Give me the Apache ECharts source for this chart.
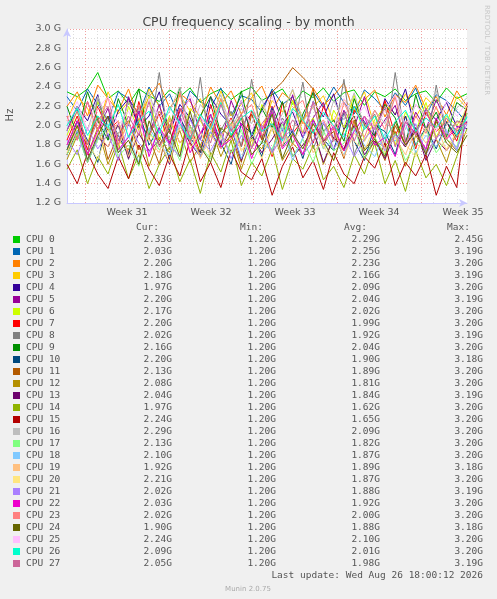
<!DOCTYPE html>
<html><head><meta charset="utf-8">
<script src="https://cdn.jsdelivr.net/npm/echarts@6/dist/echarts.min.js"></script>
<style>html,body{margin:0;padding:0;background:#F0F0F0}#c{width:497px;height:599px}</style>
</head><body><div id="c"></div>
<script>
const names = Array.from({length:28},(_,i)=>'CPU '+i);
const colors = ['#00CC00','#0066B3','#FF8000','#FFCC00','#330099','#990099','#CCFF00','#FF0000','#808080','#008F00','#00487D','#B35A00','#B38F00','#6B006B','#8FB300','#B30000','#BEBEBE','#80FF80','#80C9FF','#FFC080','#FFE680','#AA80FF','#EE00CC','#FF8080','#666600','#FFBFFF','#00FFCC','#CC6699'];
const weekLabels = ['Week 31','Week 32','Week 33','Week 34','Week 35'];
const yTicks = [1.2,1.4,1.6,1.8,2.0,2.2,2.4,2.6,2.8,3.0];
const curVals = [2.33,2.03,2.20,2.18,1.97,2.20,2.17,2.20,2.02,2.16,2.20,2.13,2.08,2.04,1.97,2.24,2.29,2.13,2.10,1.92,2.21,2.02,2.03,2.02,1.90,2.24,2.09,2.05];
const minVals = Array(28).fill(1.20);
const avgVals = [2.29,2.25,2.23,2.16,2.09,2.04,2.02,1.99,1.92,2.04,1.90,1.89,1.81,1.84,1.62,1.65,2.09,1.82,1.87,1.89,1.87,1.88,1.92,2.00,1.88,2.10,2.01,1.98];
const maxVals = [2.45,3.19,3.20,3.19,3.20,3.19,3.20,3.20,3.19,3.20,3.18,3.20,3.20,3.19,3.20,3.20,3.20,3.20,3.20,3.18,3.20,3.19,3.20,3.20,3.18,3.20,3.20,3.19];
const c0=[2.35,2.30,2.38,2.55,2.28,2.36,2.22,2.38,2.31,2.25,2.37,2.30,2.39,2.24,2.33,2.38,2.27,2.35,2.40,2.26,2.32,2.38,2.22,2.36,2.29,2.39,2.25,2.34,2.37,2.21,2.35,2.30,2.38,2.26,2.33,2.36,2.24,2.39,2.28,2.33];
const c1=[2.30,2.15,2.38,2.22,2.05,2.35,2.28,2.12,2.40,2.20,2.33,2.08,2.36,2.25,2.18,2.39,2.10,2.31,2.27,2.14,2.38,2.22,2.30,2.06,2.35,2.19,2.40,2.24,2.12,2.37,2.28,2.16,2.34,2.21,2.39,2.10,2.32,2.26,2.15,2.03];
const c2=[2.20,2.35,2.10,2.42,2.28,2.15,2.38,2.05,2.30,2.44,2.18,2.33,2.25,2.08,2.40,2.22,2.36,2.12,2.29,2.41,2.16,2.34,2.26,2.02,2.39,2.21,2.31,2.44,2.14,2.27,2.37,2.09,2.32,2.24,2.42,2.17,2.30,2.11,2.36,2.20];
const c3=[2.05,2.30,2.18,1.95,2.35,2.12,2.25,2.02,2.38,2.20,1.98,2.32,2.15,2.28,2.00,2.36,2.10,2.22,2.34,1.96,2.26,2.14,2.37,2.06,2.19,2.31,2.04,2.27,2.16,2.35,1.99,2.23,2.12,2.33,2.08,2.29,2.18,2.02,2.30,2.18];
const c4=[1.95,2.20,2.05,2.32,1.88,2.15,2.28,1.98,2.10,2.35,1.92,2.22,2.08,1.85,2.30,2.12,2.00,2.26,1.90,2.18,2.36,2.02,2.14,1.87,2.25,2.09,2.33,1.96,2.20,2.04,1.89,2.28,2.11,2.38,1.94,2.17,2.06,2.24,1.99,1.97];
const c5=[2.10,1.85,2.25,1.95,2.18,1.78,2.30,2.02,1.90,2.22,1.82,2.15,2.28,1.92,2.05,1.80,2.26,2.00,2.12,1.86,2.20,1.94,2.32,1.88,2.08,2.24,1.84,2.16,1.98,2.30,1.90,2.06,2.21,1.83,2.14,1.96,2.27,2.03,1.89,2.20];
const c6=[1.90,2.15,1.80,2.25,2.00,1.75,2.20,1.95,2.30,1.85,2.10,1.72,2.18,2.05,1.88,2.28,1.96,2.12,1.78,2.22,2.02,1.86,2.26,1.92,2.08,1.76,2.16,1.98,2.32,1.84,2.06,2.20,1.80,2.14,1.94,2.24,1.88,2.10,2.00,2.17];
const c7=[1.85,2.10,1.75,2.20,1.95,2.05,1.70,2.25,1.90,2.12,1.80,2.18,2.00,1.72,2.22,1.88,2.08,1.78,2.15,1.98,1.68,2.24,1.92,2.06,1.82,2.20,1.96,1.74,2.16,2.02,1.86,2.26,1.90,2.10,1.76,2.14,1.94,2.04,1.84,2.20];
const c8=[1.80,2.05,1.70,2.30,1.85,2.00,1.65,2.20,1.90,2.55,1.75,2.10,1.82,2.50,1.68,1.95,2.15,1.78,2.48,1.88,1.72,2.08,1.92,2.45,1.76,2.02,1.86,2.48,1.70,1.98,2.12,1.80,2.55,1.84,1.96,1.74,2.42,1.90,2.05,2.02];
const c9=[2.20,1.90,2.35,2.05,1.85,2.28,2.00,2.38,1.88,2.15,1.95,2.40,1.82,2.10,2.30,1.92,2.02,2.36,1.86,2.18,1.98,2.25,1.80,2.12,2.34,1.94,2.06,1.84,2.28,2.00,1.90,2.22,2.08,1.78,2.32,1.96,2.14,1.88,2.24,2.16];
const c10=[1.75,2.05,1.85,1.62,2.10,1.90,1.70,2.15,1.80,1.98,1.65,2.08,1.88,1.72,2.12,1.82,1.60,2.02,1.92,1.68,2.18,1.78,1.95,1.66,2.06,1.86,1.74,2.14,1.84,1.64,2.00,1.94,1.70,2.10,1.80,1.98,1.76,2.04,1.88,2.20];
const c11=[1.70,2.00,1.80,2.10,1.65,1.92,2.05,1.75,1.88,1.60,2.08,1.82,1.95,1.68,2.02,1.78,1.90,1.62,2.12,1.85,2.35,2.45,2.60,2.50,2.38,1.84,1.94,1.66,2.06,1.76,1.88,1.64,2.00,1.80,1.96,1.70,2.04,1.86,1.74,2.13];
const c12=[1.65,1.90,1.70,1.98,1.60,1.85,1.75,2.02,1.58,1.88,1.72,1.95,1.62,1.80,2.00,1.68,1.92,1.55,1.86,1.76,1.98,1.64,1.82,1.70,1.96,1.60,1.88,1.74,2.04,1.66,1.84,1.78,1.94,1.58,1.90,1.72,1.86,1.62,1.96,2.08];
const c13=[1.70,1.95,1.62,1.88,1.78,2.02,1.66,1.92,1.74,1.85,1.60,2.00,1.82,1.68,1.94,1.76,1.98,1.64,1.90,1.72,1.86,2.04,1.68,1.80,1.96,1.62,1.88,1.76,2.00,1.70,1.84,1.66,1.92,1.78,1.98,1.64,1.86,1.74,1.90,2.04];
const c14=[1.55,1.75,1.40,1.68,1.50,1.82,1.45,1.70,1.35,1.60,1.78,1.42,1.65,1.30,1.72,1.52,1.85,1.38,1.62,1.48,1.76,1.34,1.66,1.55,1.80,1.44,1.58,1.36,1.70,1.50,1.82,1.40,1.64,1.32,1.74,1.46,1.60,1.38,1.68,1.97];
const c15=[1.60,1.40,1.72,1.50,1.35,1.68,1.45,1.80,1.55,1.38,1.70,1.48,1.85,1.42,1.62,1.36,1.75,1.52,1.44,1.66,1.28,1.58,1.78,1.46,1.64,1.34,1.72,1.50,1.40,1.68,1.56,1.82,1.38,1.62,1.48,1.70,1.28,1.58,1.36,2.24];
const c16=[2.00,2.20,1.95,2.30,2.05,1.90,2.25,2.10,2.35,1.98,2.15,2.40,1.92,2.22,2.08,2.32,1.96,2.18,2.02,2.28,1.94,2.12,2.38,2.04,2.20,1.90,2.26,2.06,2.34,1.98,2.16,2.02,2.30,1.96,2.22,2.10,2.36,2.00,2.18,2.29];
const c17=[1.70,1.92,1.62,1.85,1.98,1.68,1.80,1.58,1.95,1.75,1.88,1.64,2.00,1.78,1.66,1.90,1.72,1.96,1.60,1.84,1.76,2.02,1.68,1.86,1.62,1.94,1.74,1.82,1.98,1.66,1.88,1.70,1.92,1.64,1.80,1.96,1.72,1.86,1.78,2.13];
const c18=[1.75,1.95,1.65,1.88,2.02,1.72,1.90,1.62,1.98,1.80,1.70,2.05,1.85,1.68,1.94,1.78,2.00,1.66,1.92,1.82,1.74,1.98,1.64,1.88,2.04,1.76,1.86,1.70,1.96,1.80,1.68,1.92,1.84,2.02,1.72,1.90,1.78,1.96,1.74,2.10];
const c19=[1.80,2.00,1.70,1.92,1.78,2.05,1.68,1.95,1.85,1.72,2.08,1.82,1.96,1.66,1.90,1.76,2.02,1.74,1.88,1.98,1.70,1.94,1.80,2.06,1.72,1.86,1.98,1.68,1.92,1.84,2.04,1.76,1.88,1.70,1.96,1.82,2.00,1.74,1.90,1.92];
const c20=[1.72,1.98,1.82,1.65,1.95,1.78,2.04,1.70,1.90,1.84,1.62,2.00,1.76,1.94,1.68,1.88,2.06,1.74,1.86,1.66,1.98,1.80,1.92,1.70,2.02,1.78,1.64,1.96,1.84,1.74,2.00,1.72,1.90,1.80,1.68,1.98,1.86,1.76,1.94,2.21];
const c21=[1.85,1.70,1.98,1.76,1.92,1.64,2.02,1.82,1.72,1.96,1.80,1.68,2.06,1.86,1.74,1.94,1.66,1.90,1.78,2.00,1.72,1.88,1.96,1.70,1.84,2.04,1.76,1.92,1.68,1.86,1.98,1.74,1.90,1.80,2.02,1.70,1.88,1.94,1.76,2.02];
const c22=[1.80,2.05,1.70,1.95,2.10,1.75,1.88,2.15,1.68,1.98,1.82,2.08,1.72,1.92,2.12,1.78,1.86,2.02,1.66,1.96,2.14,1.76,1.90,1.70,2.06,1.84,2.00,1.74,1.94,2.10,1.80,1.88,1.68,2.04,1.92,1.76,2.08,1.86,1.98,2.03];
const c23=[2.10,1.85,2.25,1.95,2.30,1.80,2.05,2.20,1.88,2.15,1.92,2.35,1.82,2.08,1.98,2.28,1.86,2.12,2.22,1.90,2.02,1.78,2.18,2.26,1.94,2.06,1.84,2.24,2.00,1.88,2.16,1.96,2.30,1.80,2.10,1.92,2.20,1.86,2.04,2.02];
const c24=[1.75,2.00,1.65,1.90,2.10,1.72,1.85,1.60,2.05,1.80,1.95,1.68,2.15,1.78,1.62,1.98,1.88,2.08,1.70,1.82,2.12,1.66,1.92,1.76,2.02,1.84,1.64,1.96,2.10,1.74,1.86,1.68,2.04,1.80,1.94,1.70,2.06,1.82,1.72,1.90];
const c25=[2.05,2.25,1.95,2.18,2.30,2.00,2.15,1.92,2.28,2.08,2.20,1.98,2.32,2.10,1.94,2.22,2.04,2.26,1.96,2.14,2.30,2.02,2.18,1.90,2.24,2.12,1.98,2.28,2.06,2.20,1.96,2.16,2.32,2.00,2.22,2.08,1.94,2.26,2.10,2.24];
const c26=[2.00,2.18,1.90,2.10,1.98,2.22,1.88,2.05,2.15,1.92,2.20,2.02,1.86,2.12,1.96,2.24,1.90,2.08,2.16,1.94,2.02,1.84,2.18,2.06,1.92,2.14,2.00,1.88,2.20,1.96,2.10,1.86,2.04,2.16,1.94,2.08,1.98,2.12,1.90,2.09];
const c27=[1.95,2.15,1.80,2.05,2.20,1.85,2.10,1.90,2.25,1.78,2.00,2.18,1.88,2.08,1.82,2.22,1.94,2.12,1.76,2.02,2.16,1.86,2.06,1.92,2.24,1.80,1.98,2.14,1.84,2.10,1.96,2.20,1.78,2.04,1.90,2.18,1.86,2.08,1.94,2.05];
const allSeries=[c0,c1,c2,c3,c4,c5,c6,c7,c8,c9,c10,c11,c12,c13,c14,c15,c16,c17,c18,c19,c20,c21,c22,c23,c24,c25,c26,c27];

const X0=-5, X1=28.33;
const series = allSeries.map((arr,k)=>({
  type:'line', name:names[k], showSymbol:false, animation:false, z:3,
  lineStyle:{width:1,color:colors[k]}, itemStyle:{color:colors[k]},
  data: arr.map((v,i)=>[X0+i*(X1-X0)/(arr.length-1), v])
}));
const minorX=[], majorX=[];
for(let d=-4.5; d<X1; d+=1){ (Math.abs(((d+3.5)%7+7)%7)<1e-6 ? majorX : minorX).push(d); }
series.unshift({type:'line',data:[[X0,0]],silent:true,z:1,showSymbol:false,lineStyle:{opacity:0},
  markLine:{symbol:'none',silent:true,label:{show:false},animation:false,z:1,
    data:[...minorX.map(x=>({xAxis:x,lineStyle:{color:'#DDDDDD',type:[1,2],width:1}})),
          ...majorX.map(x=>({xAxis:x,lineStyle:{color:'#F0A0A0',type:[1,2],width:1}}))]}});

const graphic=[];
const mono='"DejaVu Sans Mono", monospace';
const hdrY=228;
[['Cur:',159],['Min:',263],['Avg:',367],['Max:',470]].forEach(([t,x])=>graphic.push({type:'text',x:x,y:hdrY,style:{text:t,fill:'#555',font:'9.5px '+mono,textAlign:'right',textVerticalAlign:'middle'}}));
const fmt=v=>v.toFixed(2)+'G';
names.forEach((n,i)=>{
  const y=239.5+i*12.0;
  graphic.push({type:'rect',shape:{x:13,y:y-3.5,width:7,height:7},style:{fill:colors[i]}});
  graphic.push({type:'text',x:26,y:y,style:{text:n,fill:'#555',font:'9.5px '+mono,textVerticalAlign:'middle'}});
  [[curVals,172],[minVals,276],[avgVals,380],[maxVals,483]].forEach(([a,x])=>graphic.push({type:'text',x:x,y:y,style:{text:fmt(a[i]),fill:'#555',font:'9.5px '+mono,textAlign:'right',textVerticalAlign:'middle'}}));
});
graphic.push({type:'text',x:483,y:576,style:{text:'Last update: Wed Aug 26 18:00:12 2026',fill:'#555',font:'9.5px '+mono,textAlign:'right',textVerticalAlign:'middle'}});
graphic.push({type:'text',x:248,y:589,style:{text:'Munin 2.0.75',fill:'#AAAAAA',font:'7px "DejaVu Sans"',textAlign:'center',textVerticalAlign:'middle'}});
graphic.push({type:'text',x:487,y:5,rotation:-Math.PI/2,style:{text:'RRDTOOL / TOBI OETIKER',fill:'#C8C8C8',font:'7px "DejaVu Sans"',textVerticalAlign:'middle'}});
graphic.push({type:'text',x:10,y:115,rotation:Math.PI/2,style:{text:'Hz',fill:'#555',font:'10px "DejaVu Sans"',textAlign:'center',textVerticalAlign:'middle'}});

const chart=echarts.init(document.getElementById('c'),null,{renderer:'canvas'});
chart.setOption({
  backgroundColor:'#F0F0F0', animation:false,
  title:{text:'CPU frequency scaling - by month',left:'center',top:11,textStyle:{fontFamily:'DejaVu Sans',fontSize:12.5,fontWeight:'normal',color:'#444'}},
  grid:{left:67,right:30,top:29,bottom:396,backgroundColor:'#FFFFFF',show:true,borderWidth:0},
  xAxis:{type:'value',min:X0,max:X1,
    axisLine:{show:true,onZero:false,lineStyle:{color:'#C8C8FF'},symbol:['none','arrow'],symbolSize:[6,8]},
    axisTick:{show:false},splitLine:{show:false},
    axisLabel:{customValues:[0,7,14,21,28],formatter:v=>weekLabels[Math.round(v/7)],color:'#555',fontFamily:'DejaVu Sans',fontSize:9.5,margin:5}},
  yAxis:{type:'value',min:1.2,max:3.0,interval:0.2,
    axisLine:{show:true,onZero:false,lineStyle:{color:'#C8C8FF'},symbol:['none','arrow'],symbolSize:[6,8]},
    axisTick:{show:false},
    axisLabel:{formatter:v=>v.toFixed(1)+' G',color:'#555',fontFamily:'DejaVu Sans',fontSize:9.5,margin:6},
    splitLine:{lineStyle:{color:'#F0A0A0',type:[1,2]}},
    minorTick:{show:false,splitNumber:2},
    minorSplitLine:{show:true,lineStyle:{color:'#DDDDDD',type:[1,2]}}},
  series:series, graphic:graphic
});
</script></body></html>
